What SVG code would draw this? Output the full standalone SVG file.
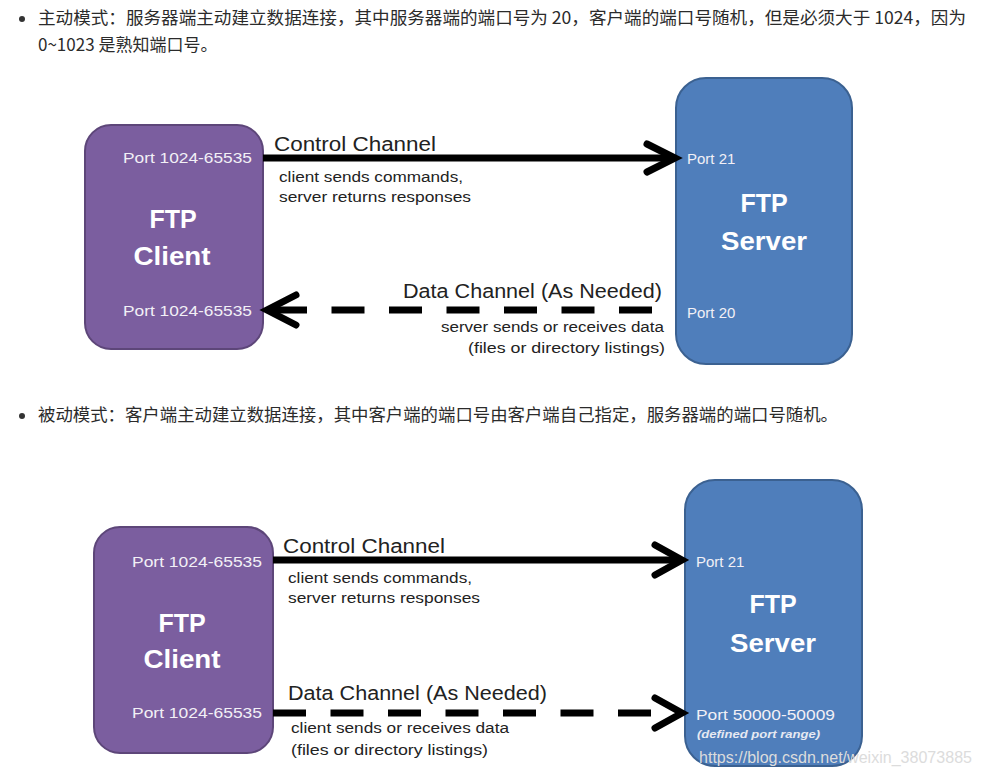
<svg xmlns="http://www.w3.org/2000/svg" width="981" height="777" viewBox="0 0 981 777">
<defs>
<style>
.cjk{font-family:"Noto Sans CJK SC","Noto Sans",sans-serif;font-size:17px;fill:#2b2b2b}
.client{fill:#7b5e9f;stroke:#5d4679;stroke-width:2}
.server{fill:#4f7ebb;stroke:#3b6191;stroke-width:2}
.port{font-family:"Liberation Sans",Arial,sans-serif;font-size:15px;fill:#f2f0f6}
.big{font-family:"Liberation Sans",Arial,sans-serif;font-size:25px;font-weight:bold;fill:#ffffff;text-anchor:middle}
.ch{font-family:"Liberation Sans",Arial,sans-serif;font-size:20px;fill:#222}
.note{font-family:"Liberation Sans",Arial,sans-serif;font-size:14px;fill:#222}
.solid{stroke:#000;stroke-width:7;fill:none}
.dash{stroke:#000;stroke-width:7;fill:none;stroke-dasharray:33 24.5}
.head{stroke:#000;stroke-width:7;fill:none;stroke-linecap:round;stroke-linejoin:miter}
</style>
</defs>
<rect width="981" height="777" fill="#ffffff"/>

<g id="header1">
<circle cx="22" cy="19" r="3" fill="#333"/>
<text class="cjk" x="38" y="24" textLength="928" lengthAdjust="spacingAndGlyphs">主动模式：服务器端主动建立数据连接，其中服务器端的端口号为 20，客户端的端口号随机，但是必须大于 1024，因为</text>
<text class="cjk" x="38" y="51">0~1023 是熟知端口号。</text>
</g>
<g id="header2">
<circle cx="22" cy="416" r="3" fill="#333"/>
<text class="cjk" x="38" y="421" textLength="800" lengthAdjust="spacingAndGlyphs">被动模式：客户端主动建立数据连接，其中客户端的端口号由客户端自己指定，服务器端的端口号随机。</text>
</g>

<!-- Active mode -->
<g id="client1">
<rect class="client" x="85" y="125" width="178" height="224" rx="26"/>
<text class="port" x="123" y="163" textLength="129" lengthAdjust="spacingAndGlyphs">Port 1024-65535</text>
<text class="big" x="173" y="228">FTP</text>
<text class="big" x="172" y="265" textLength="77" lengthAdjust="spacingAndGlyphs">Client</text>
<text class="port" x="123" y="316" textLength="129" lengthAdjust="spacingAndGlyphs">Port 1024-65535</text>
</g>
<g id="server1">
<rect class="server" x="676" y="78" width="176" height="286" rx="30"/>
<text class="port" x="687" y="164">Port 21</text>
<text class="big" x="764" y="212">FTP</text>
<text class="big" x="764" y="250" textLength="86" lengthAdjust="spacingAndGlyphs">Server</text>
<text class="port" x="687" y="318">Port 20</text>
</g>

<!-- Passive mode -->
<g id="client2">
<rect class="client" x="94" y="527" width="179" height="226" rx="26"/>
<text class="port" x="132" y="567" textLength="130" lengthAdjust="spacingAndGlyphs">Port 1024-65535</text>
<text class="big" x="182" y="632">FTP</text>
<text class="big" x="182" y="668" textLength="77" lengthAdjust="spacingAndGlyphs">Client</text>
<text class="port" x="132" y="718" textLength="130" lengthAdjust="spacingAndGlyphs">Port 1024-65535</text>
</g>
<g id="server2">
<rect class="server" x="685" y="480" width="177" height="286" rx="30"/>
<text class="port" x="696" y="567">Port 21</text>
<text class="big" x="773" y="613">FTP</text>
<text class="big" x="773" y="652" textLength="86" lengthAdjust="spacingAndGlyphs">Server</text>
<text class="port" x="696" y="720" textLength="139" lengthAdjust="spacingAndGlyphs">Port 50000-50009</text>
<text x="697" y="738" textLength="123" lengthAdjust="spacingAndGlyphs" style="font-family:'Liberation Sans',Arial,sans-serif;font-size:11px;font-style:italic;font-weight:bold;fill:#e6e9f2">(defined port range)</text>
</g>

<g id="connectors">
<line class="solid" x1="263" y1="158" x2="672" y2="158"/>
<polyline class="head" points="647,144 675,158 647,172"/>
<line class="dash" x1="652" y1="310" x2="268" y2="310"/>
<polyline class="head" points="296,295 267,310 296,325"/>

<line class="solid" x1="273" y1="560" x2="680" y2="560"/>
<polyline class="head" points="655,545 682,560 655,575"/>
<line class="dash" x1="273" y1="713" x2="680" y2="713"/>
<polyline class="head" points="655,698 682,713 655,728"/>
</g>

<g id="labels">
<text class="ch" x="274" y="151" textLength="162" lengthAdjust="spacingAndGlyphs">Control Channel</text>
<text class="note" x="279" y="182" textLength="184" lengthAdjust="spacingAndGlyphs">client sends commands,</text>
<text class="note" x="279" y="202" textLength="192" lengthAdjust="spacingAndGlyphs">server returns responses</text>
<text class="ch" x="403" y="298" textLength="259" lengthAdjust="spacingAndGlyphs">Data Channel (As Needed)</text>
<text class="note" x="441" y="332" textLength="223" lengthAdjust="spacingAndGlyphs">server sends or receives data</text>
<text class="note" x="468" y="353" textLength="197" lengthAdjust="spacingAndGlyphs">(files or directory listings)</text>

<text class="ch" x="283" y="553" textLength="162" lengthAdjust="spacingAndGlyphs">Control Channel</text>
<text class="note" x="288" y="583" textLength="184" lengthAdjust="spacingAndGlyphs">client sends commands,</text>
<text class="note" x="288" y="603" textLength="192" lengthAdjust="spacingAndGlyphs">server returns responses</text>
<text class="ch" x="288" y="700" textLength="259" lengthAdjust="spacingAndGlyphs">Data Channel (As Needed)</text>
<text class="note" x="291" y="733" textLength="218" lengthAdjust="spacingAndGlyphs">client sends or receives data</text>
<text class="note" x="291" y="755" textLength="197" lengthAdjust="spacingAndGlyphs">(files or directory listings)</text>
</g>

<text x="699" y="763" textLength="273" lengthAdjust="spacingAndGlyphs" style="font-family:'Liberation Sans',Arial,sans-serif;font-size:17px;fill:#dcdcdc">https://blog.csdn.net/weixin_38073885</text>
</svg>
